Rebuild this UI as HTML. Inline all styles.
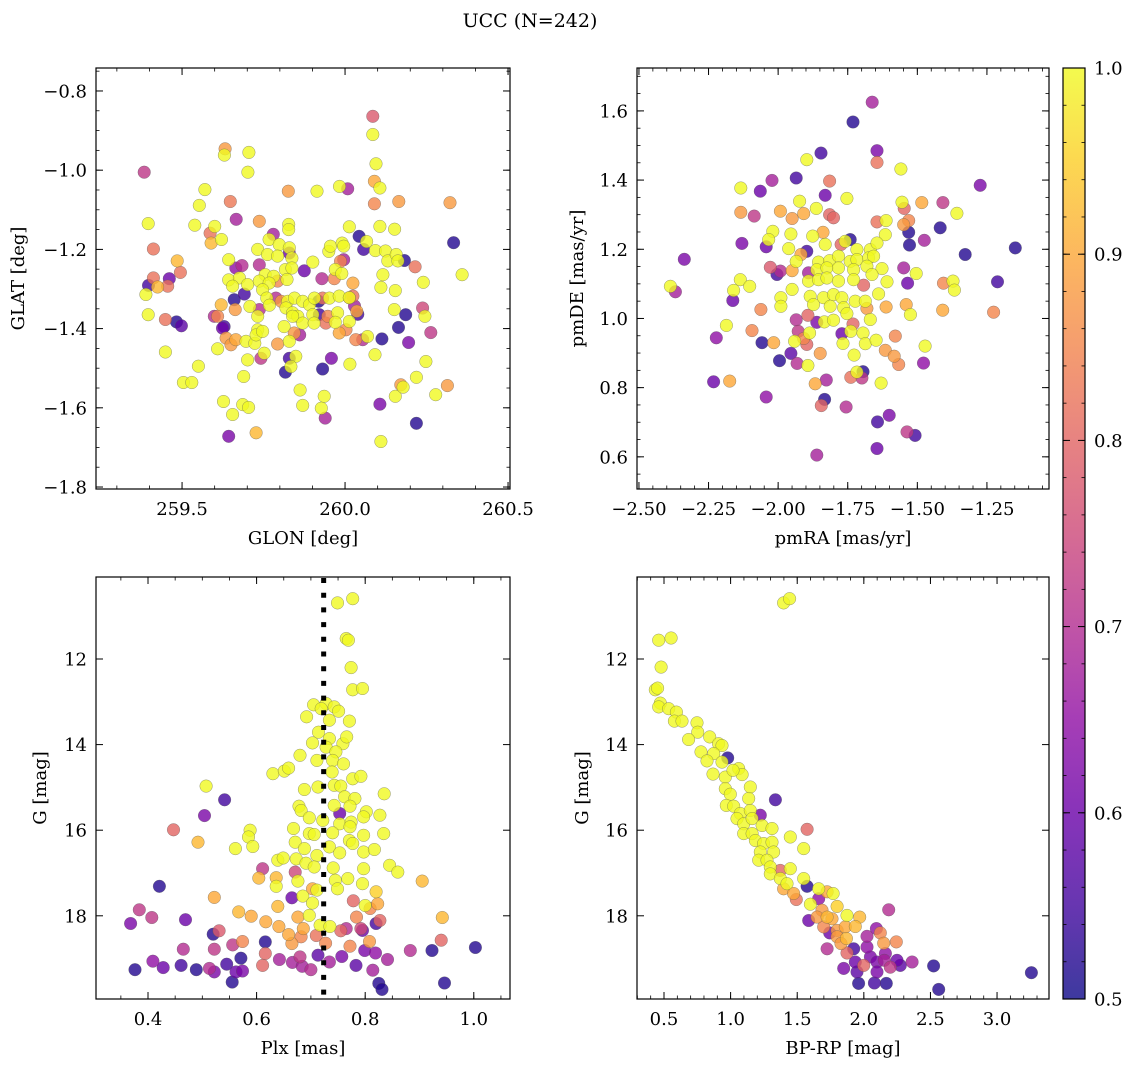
<!DOCTYPE html>
<html><head><meta charset="utf-8">
<style>
body{margin:0;background:#fff;}
svg text{font-family:"DejaVu Serif","Liberation Serif",serif;fill:#000;}
</style></head>
<body>
<svg id="fig" width="1136" height="1067" viewBox="0 0 1136 1067" xmlns="http://www.w3.org/2000/svg">
<defs><linearGradient id="cbgrad" x1="0" y1="1" x2="0" y2="0"></linearGradient></defs>
<text x="530" y="27" font-size="19" text-anchor="middle">UCC (N=242)</text>
</svg>
<script>
// ---------- Panel 1: GLON / GLAT ----------
const glon=[260.085,260.085,260.095,260.09,260.107,260.09,260.165,260.322,260.107,260.152,260.333,260.359,259.384,259.396,259.412,259.485,259.495,259.461,259.412,259.397,259.425,259.456,259.389,259.396,259.449,259.483,259.498,259.449,259.55,259.504,259.53,259.627,259.655,259.686,259.704,259.643,259.727,259.632,259.63,259.705,259.702,259.57,259.553,259.648,259.666,259.737,259.539,259.6,259.586,259.589,259.621,259.826,259.914,259.983,260.008,259.827,259.827,259.78,259.767,259.732,259.798,259.829,259.829,259.762,259.793,259.837,259.643,259.901,259.875,259.665,259.684,259.737,259.817,259.837,259.755,259.781,259.822,259.643,259.676,259.655,259.701,259.737,259.767,259.793,259.929,259.95,259.955,259.991,259.996,260.013,259.986,259.996,259.97,259.99,259.967,260.043,260.066,260.057,260.093,260.124,260.131,260.157,260.162,260.182,260.215,260.116,260.024,260.11,260.154,260.24,260.024,260.013,260.029,260.039,260.036,259.691,259.66,259.747,259.76,259.788,259.768,259.804,259.824,259.845,259.87,259.891,259.906,259.919,259.931,259.952,259.982,260.013,259.62,259.663,259.708,259.737,259.732,259.819,259.839,259.855,259.901,259.921,259.947,259.977,259.599,259.609,259.624,259.629,259.732,259.813,259.839,259.87,259.905,259.941,259.97,260.013,260.003,259.982,259.635,259.65,259.665,259.696,259.723,259.727,259.747,259.701,259.752,259.742,259.793,259.829,259.861,259.844,259.829,259.849,259.834,259.817,259.931,259.958,260.015,260.033,260.054,260.069,260.113,260.164,260.186,260.195,260.238,260.245,260.263,260.248,260.092,260.151,259.862,259.87,259.936,259.927,259.939,259.689,259.609,260.107,260.154,260.171,260.178,260.219,260.278,260.314,260.219,260.11];
const glat=[-0.864,-0.910,-0.984,-1.028,-1.045,-1.085,-1.079,-1.082,-1.142,-1.149,-1.183,-1.264,-1.005,-1.135,-1.199,-1.229,-1.258,-1.274,-1.272,-1.291,-1.295,-1.293,-1.314,-1.365,-1.377,-1.383,-1.393,-1.459,-1.495,-1.536,-1.536,-1.584,-1.617,-1.592,-1.599,-1.672,-1.663,-0.946,-0.962,-0.955,-1.005,-1.049,-1.089,-1.079,-1.124,-1.129,-1.139,-1.142,-1.159,-1.184,-1.175,-1.053,-1.053,-1.041,-1.047,-1.137,-1.15,-1.162,-1.175,-1.2,-1.188,-1.196,-1.209,-1.213,-1.217,-1.222,-1.226,-1.232,-1.254,-1.247,-1.241,-1.239,-1.251,-1.247,-1.264,-1.268,-1.276,-1.277,-1.272,-1.293,-1.289,-1.28,-1.285,-1.28,-1.274,-1.205,-1.192,-1.184,-1.192,-1.143,-1.23,-1.226,-1.251,-1.261,-1.274,-1.167,-1.18,-1.2,-1.203,-1.204,-1.229,-1.213,-1.229,-1.228,-1.244,-1.264,-1.285,-1.296,-1.304,-1.283,-1.318,-1.322,-1.343,-1.364,-1.356,-1.313,-1.327,-1.302,-1.323,-1.323,-1.341,-1.331,-1.331,-1.323,-1.331,-1.34,-1.323,-1.331,-1.323,-1.323,-1.318,-1.322,-1.34,-1.352,-1.344,-1.352,-1.369,-1.348,-1.36,-1.369,-1.365,-1.365,-1.369,-1.36,-1.369,-1.369,-1.399,-1.395,-1.403,-1.395,-1.369,-1.386,-1.386,-1.386,-1.384,-1.382,-1.403,-1.411,-1.424,-1.441,-1.428,-1.432,-1.437,-1.416,-1.407,-1.479,-1.462,-1.475,-1.439,-1.432,-1.416,-1.411,-1.475,-1.47,-1.496,-1.51,-1.502,-1.475,-1.49,-1.428,-1.428,-1.42,-1.426,-1.397,-1.365,-1.435,-1.348,-1.369,-1.41,-1.483,-1.466,-1.352,-1.555,-1.594,-1.571,-1.601,-1.626,-1.521,-1.451,-1.591,-1.571,-1.542,-1.548,-1.523,-1.567,-1.544,-1.639,-1.685];
const probA=[.78,1,1,.9,1,.85,.88,.88,1,1,.52,1,.72,1,.82,.92,.82,.6,.82,.55,.92,.82,1,1,.82,.52,.58,1,1,1,1,1,1,1,1,.62,.92,.88,1,1,1,1,1,.83,.68,.88,1,1,.82,.92,1,.88,1,1,.68,1,1,.68,1,1,1,1,.6,1,1,1,1,1,.6,.65,.7,.7,1,1,1,1,1,1,1,1,1,1,1,.85,.7,1,1,1,1,1,.85,.68,1,1,.85,.52,1,.55,1,1,1,1,1,.52,.82,1,.9,1,1,1,.82,.88,.68,.55,.9,.55,.52,1,1,.7,1,.88,1,1,1,1,1,.52,.82,1,1,1,.92,.88,1,.7,1,1,1,1,1,.55,.85,1,.7,.85,.6,.55,1,1,1,1,1,.82,1,1,.85,.9,.88,.88,.9,1,1,1,1,1,1,.72,.88,1,.68,.88,.55,1,1,.52,.52,.62,1,.85,.7,1,.52,.52,.52,.62,.75,1,.72,1,1,1,1,1,1,1,.68,1,1,.62,1,.88,1,1,1,.88,.52,1];

// ---------- Panel 2: pmRA / pmDE ----------
const pmra=[-1.662,-1.731,-1.645,-1.645,-1.846,-1.897,-1.559,-1.935,-2.022,-2.064,-2.134,-1.831,-1.815,-1.753,-1.274,-1.923,-1.863,-1.992,-1.950,-1.908,-1.815,-1.801,-2.134,-2.086,-1.555,-1.547,-1.484,-1.408,-1.358,-1.645,-1.612,-1.531,-1.549,-1.418,-1.531,-1.528,-1.475,-1.615,-2.019,-1.954,-1.876,-1.839,-1.831,-2.034,-2.130,-2.043,-1.962,-1.897,-1.918,-1.774,-1.741,-1.759,-1.717,-1.669,-1.645,-1.328,-1.148,-2.337,-1.935,-1.855,-1.815,-1.783,-1.741,-1.717,-1.675,-1.657,-2.028,-1.992,-2.004,-1.950,-1.891,-1.861,-1.825,-1.783,-1.729,-1.681,-1.627,-1.549,-1.504,-2.136,-2.102,-2.160,-2.387,-2.369,-2.163,-1.950,-1.990,-1.990,-2.062,-1.891,-1.855,-1.825,-1.783,-1.729,-1.693,-1.663,-1.609,-1.535,-1.406,-1.372,-1.367,-1.212,-1.885,-1.837,-1.801,-1.771,-1.723,-1.687,-1.639,-1.873,-1.813,-1.765,-1.681,-1.612,-1.540,-1.525,-1.409,-1.226,-1.935,-1.893,-1.861,-1.834,-1.801,-1.753,-1.731,-1.669,-2.186,-2.222,-2.094,-1.928,-1.887,-2.058,-2.016,-1.941,-1.908,-1.897,-1.771,-1.739,-1.695,-1.579,-1.767,-1.687,-1.648,-1.472,-1.995,-1.954,-1.932,-1.893,-1.849,-1.727,-1.615,-1.583,-1.567,-1.478,-2.232,-2.174,-1.867,-1.827,-1.739,-1.717,-1.695,-1.699,-1.630,-2.043,-1.833,-1.845,-1.756,-1.643,-1.601,-1.537,-1.508,-1.645,-1.861];
const pmde=[1.625,1.568,1.485,1.451,1.478,1.459,1.432,1.406,1.399,1.368,1.377,1.356,1.397,1.347,1.385,1.339,1.318,1.310,1.289,1.303,1.300,1.291,1.307,1.296,1.336,1.318,1.335,1.335,1.304,1.279,1.283,1.283,1.271,1.262,1.249,1.212,1.226,1.242,1.252,1.244,1.238,1.249,1.214,1.228,1.217,1.207,1.202,1.194,1.185,1.214,1.228,1.223,1.199,1.199,1.218,1.185,1.204,1.171,1.165,1.163,1.167,1.180,1.165,1.170,1.175,1.180,1.148,1.137,1.127,1.138,1.132,1.141,1.146,1.146,1.141,1.151,1.144,1.146,1.130,1.112,1.093,1.081,1.093,1.077,1.052,1.084,1.060,1.035,1.026,1.108,1.112,1.117,1.108,1.112,1.096,1.127,1.106,1.102,1.102,1.108,1.082,1.106,1.064,1.060,1.069,1.060,1.050,1.050,1.071,1.040,1.035,1.031,1.029,1.033,1.040,1.011,1.024,1.018,0.996,1.009,0.989,0.990,0.995,1.014,0.984,0.997,0.980,0.944,0.965,0.963,0.958,0.930,0.930,0.934,0.942,0.925,0.956,0.963,0.958,0.949,0.928,0.927,0.937,0.920,0.878,0.899,0.870,0.864,0.899,0.894,0.908,0.891,0.867,0.871,0.817,0.819,0.811,0.822,0.830,0.845,0.846,0.828,0.813,0.773,0.766,0.748,0.744,0.701,0.720,0.672,0.662,0.624,0.605];
const probB=[.68,.52,.62,.82,.55,1,1,.55,.68,.6,1,.6,.82,1,.62,1,1,.9,.88,.9,.8,.8,.88,.72,1,.8,.9,.72,1,.82,1,.85,.88,.52,.52,.52,.68,1,1,1,1,.9,1,1,.62,.6,1,.55,.9,.8,.52,1,1,1,1,.52,.52,.62,1,1,1,1,1,1,1,1,.78,.7,.55,.9,.68,1,1,1,1,1,1,.68,1,1,1,1,1,.68,.6,1,1,1,.85,1,1,1,1,1,.8,1,1,.6,.85,1,1,.55,1,1,1,1,1,1,1,1,1,1,.88,.9,.9,1,.9,.85,.7,.8,.62,1,1,1,.8,1,1,.65,.85,.72,1,.52,.9,1,.85,.8,.6,1,1,.85,1,1,1,1,.52,.58,.7,1,.88,1,.88,.88,.85,.65,.6,.9,.9,.68,.82,1,.52,.72,1,.65,.52,.8,.7,.55,.62,.72,.55,.6,.68];

// ---------- Panel 3: Plx / G ----------
const plx=[0.777,0.749,0.765,0.769,0.774,0.777,0.795,0.705,0.728,0.743,0.751,0.719,0.692,0.734,0.771,0.714,0.734,0.759,0.766,0.703,0.728,0.746,0.680,0.711,0.740,0.760,0.630,0.651,0.659,0.739,0.777,0.792,0.688,0.713,0.743,0.755,0.762,0.781,0.835,0.507,0.541,0.504,0.678,0.682,0.743,0.772,0.753,0.802,0.797,0.827,0.697,0.722,0.753,0.774,0.772,0.447,0.492,0.588,0.585,0.593,0.561,0.668,0.697,0.706,0.740,0.671,0.771,0.777,0.797,0.834,0.688,0.711,0.734,0.753,0.797,0.817,0.639,0.649,0.673,0.691,0.706,0.741,0.797,0.845,0.860,0.421,0.611,0.604,0.636,0.636,0.671,0.676,0.703,0.711,0.745,0.768,0.795,0.749,0.820,0.905,0.522,0.384,0.407,0.368,0.469,0.639,0.665,0.685,0.703,0.778,0.800,0.809,0.823,0.567,0.590,0.617,0.676,0.697,0.784,0.827,0.820,0.942,0.520,0.531,0.641,0.659,0.686,0.717,0.735,0.765,0.755,0.792,0.795,0.465,0.522,0.556,0.574,0.616,0.616,0.665,0.682,0.710,0.727,0.772,0.808,0.883,0.923,0.940,1.003,0.376,0.409,0.428,0.461,0.489,0.513,0.522,0.545,0.571,0.562,0.574,0.611,0.642,0.666,0.680,0.684,0.700,0.713,0.734,0.757,0.783,0.799,0.819,0.841,0.814,0.555,0.825,0.831,0.946];
const gmagA=[10.59,10.69,11.52,11.56,12.20,12.72,12.69,13.07,13.04,13.12,13.22,13.16,13.35,13.43,13.45,13.71,13.86,13.98,13.82,13.96,14.06,14.17,14.25,14.37,14.37,14.45,14.68,14.62,14.55,14.64,14.80,14.74,15.05,14.99,14.95,14.97,15.22,15.26,15.15,14.97,15.29,15.66,15.44,15.54,15.42,15.44,15.61,15.57,15.69,15.65,15.71,15.77,15.85,15.81,15.92,15.99,16.28,16.00,16.16,16.38,16.43,15.96,16.08,16.10,16.06,16.28,16.24,16.31,16.12,16.08,16.43,16.59,16.39,16.53,16.51,16.45,16.70,16.65,16.67,16.77,16.86,16.88,16.90,16.82,16.98,17.31,16.90,17.12,17.11,17.31,16.98,17.19,17.37,17.40,17.17,17.13,17.25,17.37,17.44,17.19,17.57,17.86,18.04,18.18,18.09,17.78,17.58,17.54,17.70,17.65,17.76,17.83,17.72,17.91,18.01,18.14,18.03,17.99,18.03,18.11,18.18,18.04,18.43,18.35,18.25,18.44,18.30,18.22,18.25,18.30,18.35,18.30,18.34,18.78,18.78,18.68,18.60,18.61,18.88,18.65,18.49,18.46,18.64,18.71,18.60,18.81,18.81,18.57,18.74,19.26,19.06,19.21,19.16,19.26,19.23,19.31,19.13,18.99,19.31,19.29,19.16,19.02,19.09,18.96,19.18,19.26,18.92,19.08,18.95,19.16,18.81,18.87,19.02,19.27,19.55,19.58,19.72,19.57];
const probC=[1,1,1,1,1,1,1,1,1,1,1,1,1,1,1,1,1,1,1,1,1,1,1,1,1,1,1,1,1,1,1,1,1,1,1,1,1,1,1,1,.55,.62,1,1,1,1,.6,1,1,1,1,1,1,1,1,.8,.92,1,1,1,1,1,1,1,1,1,1,1,1,1,1,1,1,1,1,1,1,1,1,1,1,1,1,1,1,.52,.72,.92,.92,1,.75,1,.9,1,1,1,1,1,.95,.92,.9,.72,.72,.62,.6,.92,.6,1,1,.8,1,.85,.9,.92,.9,.9,.9,1,.85,.8,.55,.92,.52,.78,.9,.9,.9,1,1,.7,.8,.75,.6,.7,.72,.72,.85,.52,.8,.88,.85,.82,.85,.85,.88,.7,.52,.8,.52,.52,.65,.6,.55,.52,.7,.62,.55,.52,.6,.62,.8,.68,.68,.72,.68,.7,.58,.68,.62,.58,.62,.65,.68,.68,.52,.52,.52,.52];

// ---------- Panel 4: BP-RP / G ----------
const bprp=[1.398,1.443,0.460,0.553,0.478,0.435,0.452,0.472,0.460,0.535,0.593,0.578,0.635,0.748,0.753,0.685,0.843,0.910,0.935,0.778,0.873,0.978,0.823,0.935,1.061,0.868,0.960,1.086,1.018,1.148,0.960,0.998,1.136,1.336,0.968,1.023,1.073,1.148,1.223,1.048,1.098,1.161,1.236,1.311,1.098,1.161,1.448,1.574,1.186,1.248,1.311,1.549,1.223,1.323,1.211,1.273,1.298,1.448,1.373,1.298,1.373,1.423,1.549,1.574,1.398,1.473,1.661,1.724,1.769,1.493,1.599,1.661,1.686,1.799,1.586,1.649,1.724,1.761,1.874,1.969,2.187,1.699,1.744,1.799,1.861,1.936,2.094,2.124,2.024,1.799,1.869,1.724,1.829,1.874,1.924,2.024,2.149,2.244,1.849,1.936,1.949,1.999,2.049,2.099,2.162,2.154,2.199,2.249,2.274,2.362,2.099,1.961,2.079,2.169,2.524,2.562,3.258];
const gmagB=[10.69,10.59,11.56,11.51,12.19,12.72,12.68,13.03,13.12,13.16,13.24,13.45,13.45,13.49,13.71,13.88,13.82,13.98,14.02,14.17,14.21,14.31,14.38,14.41,14.56,14.69,14.76,14.70,14.60,14.99,15.03,15.16,15.26,15.29,15.42,15.44,15.61,15.54,15.65,15.73,15.85,15.73,15.89,15.96,16.08,16.08,16.16,15.98,16.24,16.31,16.28,16.43,16.51,16.51,16.70,16.70,16.86,16.90,16.94,17.02,17.13,17.25,17.13,17.31,17.37,17.48,17.37,17.44,17.48,17.62,17.73,17.60,17.87,17.78,18.11,18.03,18.03,18.07,17.99,18.03,17.86,18.26,18.40,18.34,18.26,18.25,18.30,18.40,18.48,18.49,18.53,18.77,18.65,18.87,18.77,18.73,18.64,18.61,19.23,19.08,19.31,19.16,18.96,19.08,18.88,19.04,19.20,19.04,19.16,19.08,19.31,19.58,19.57,19.58,19.17,19.72,19.33];
const probD=[1,1,1,1,1,1,1,1,1,1,1,1,1,1,1,1,1,1,1,1,1,.52,1,1,1,1,1,1,1,1,1,1,1,.55,1,1,1,1,.62,1,1,1,1,1,1,1,1,.8,1,1,1,1,1,1,1,1,1,1,.8,1,1,1,1,.52,.9,.9,1,.9,1,.82,1,.65,.88,.95,.6,.88,.92,.9,1,.92,.7,.85,.6,.88,.9,.92,.65,.85,.68,.88,.92,.7,.88,.8,.55,.65,.88,.85,.62,.6,.58,.8,.62,.62,.65,.68,.72,.6,.58,.68,.62,.52,.55,.52,.52,.52,.52];

// ---------- Colorbar ----------
const cbTicks=[0.5,0.6,0.7,0.8,0.9,1.0];
const cbMin=0.5, cbMax=1.0;

const plasmaStops=['#0d0887','#41049d','#6a00a8','#8f0da4','#b12a90','#cc4778','#e16462','#f2844b','#fca636','#fcce25','#f0f921'];
function hex(h){return [parseInt(h.substr(1,2),16),parseInt(h.substr(3,2),16),parseInt(h.substr(5,2),16)];}
function plasma(t){t=Math.max(0,Math.min(1,t));const n=plasmaStops.length-1;const i=Math.min(n-1,Math.floor(t*n));const f=t*n-i;const a=hex(plasmaStops[i]),b=hex(plasmaStops[i+1]);return 'rgb('+a.map((v,k)=>Math.round(v+(b[k]-v)*f)).join(',')+')';}
function colorOf(p){return plasma((p-cbMin)/(cbMax-cbMin));}

const NS='http://www.w3.org/2000/svg';
const svg=document.getElementById('fig');
const FS=18;
function mk(tag,attrs,parent){const e=document.createElementNS(NS,tag);for(const k in attrs)e.setAttribute(k,attrs[k]);(parent||svg).appendChild(e);return e;}
function fmt(v,d){const s=Math.abs(v).toFixed(d);return (v<-1e-9?'\u2212':'')+s;}

function panel(cfg){
  const g=mk('g',{});
  
  
  const {L,T,R,B}=cfg;
  const sx=v=>L+(v-cfg.x0)/(cfg.x1-cfg.x0)*(R-L);
  const sy=v=>B-(v-cfg.y0)/(cfg.y1-cfg.y0)*(B-T);
  const clip='clip-'+cfg.name;
  const cp=mk('clipPath',{id:clip},g);mk('rect',{x:L,y:T,width:R-L,height:B-T},cp);
  const pts=mk('g',{'clip-path':'url(#'+clip+')'},g);
  
  
  const idx=cfg.xs.map((_,i)=>i).sort((a,b)=>cfg.ps[a]-cfg.ps[b]);
  idx.forEach(i=>{
    const c=mk('circle',{cx:sx(cfg.xs[i]).toFixed(1),cy:sy(cfg.ys[i]).toFixed(1),r:6.3,fill:colorOf(cfg.ps[i]),'fill-opacity':0.8,stroke:'#555','stroke-opacity':0.6,'stroke-width':0.5},pts);
    
    
  });
  if(cfg.vline!==undefined){
    const l=mk('line',{x1:sx(cfg.vline),x2:sx(cfg.vline),y1:T+1,y2:B,stroke:'#000','stroke-width':5,'stroke-dasharray':'5 9.7'},g);
    
    
  }
  const ax=mk('g',{},g);
  
  
  for(let v=Math.ceil(cfg.x0/cfg.xmin-1e-6)*cfg.xmin;v<=cfg.x1;v+=cfg.xmin){const x=sx(v);mk('line',{x1:x,x2:x,y1:B,y2:B-3.5,stroke:'#000','stroke-width':0.8},ax);mk('line',{x1:x,x2:x,y1:T,y2:T+3.5,stroke:'#000','stroke-width':0.8},ax);}
  for(let v=Math.ceil(cfg.y0/cfg.ymin-1e-6)*cfg.ymin;v<=cfg.y1;v+=cfg.ymin){const y=sy(v);mk('line',{x1:L,x2:L+3.5,y1:y,y2:y,stroke:'#000','stroke-width':0.8},ax);mk('line',{x1:R,x2:R-3.5,y1:y,y2:y,stroke:'#000','stroke-width':0.8},ax);}
  cfg.xticks.forEach(v=>{const x=sx(v);mk('line',{x1:x,x2:x,y1:B,y2:B-7,stroke:'#000','stroke-width':1},ax);mk('line',{x1:x,x2:x,y1:T,y2:T+7,stroke:'#000','stroke-width':1},ax);
    const t=mk('text',{x:x,y:B+26,'font-size':FS,'text-anchor':'middle'},ax);t.textContent=fmt(v,cfg.xd);
    });
  cfg.yticks.forEach(v=>{const y=sy(v);mk('line',{x1:L,x2:L+7,y1:y,y2:y,stroke:'#000','stroke-width':1},ax);mk('line',{x1:R,x2:R-7,y1:y,y2:y,stroke:'#000','stroke-width':1},ax);
    const t=mk('text',{x:L-9,y:y+6.5,'font-size':FS,'text-anchor':'end'},ax);t.textContent=fmt(v,cfg.yd);
    });
  mk('rect',{x:L,y:T,width:R-L,height:B-T,fill:'none',stroke:'#000','stroke-width':1.2},ax);
  const xt=mk('text',{x:(L+R)/2,y:B+55,'font-size':FS,'text-anchor':'middle'},g);xt.textContent=cfg.xlabel;
  
  const yt=mk('text',{x:0,y:0,'font-size':FS,'text-anchor':'middle',transform:'translate('+cfg.ylx+','+((T+B)/2)+') rotate(-90)'},g);yt.textContent=cfg.ylabel;
  
}

panel({name:'glon-glat-panel',L:96,T:68,R:510,B:489,x0:259.236,x1:260.506,y0:-1.805,y1:-0.742,xs:glon,ys:glat,ps:probA,
  xticks:[259.5,260.0,260.5],xd:1,xmin:0.1,yticks:[-0.8,-1.0,-1.2,-1.4,-1.6,-1.8],yd:1,ymin:0.05,xlabel:'GLON [deg]',ylabel:'GLAT [deg]',ylx:24});
panel({name:'proper-motion-panel',L:637,T:68,R:1049,B:489,x0:-2.507,x1:-1.027,y0:0.507,y1:1.724,xs:pmra,ys:pmde,ps:probB,
  xticks:[-2.5,-2.25,-2.0,-1.75,-1.5,-1.25],xd:2,xmin:0.05,yticks:[0.6,0.8,1.0,1.2,1.4,1.6],yd:1,ymin:0.05,xlabel:'pmRA [mas/yr]',ylabel:'pmDE [mas/yr]',ylx:583});
panel({name:'parallax-panel',L:96,T:577,R:510,B:999,x0:0.3042,x1:1.0667,y0:19.944,y1:10.084,xs:plx,ys:gmagA,ps:probC,vline:0.7235,
  xticks:[0.4,0.6,0.8,1.0],xd:1,xmin:0.05,yticks:[12,14,16,18],yd:0,ymin:0.5,xlabel:'Plx [mas]',ylabel:'G [mag]',ylx:46});
panel({name:'cmd-panel',L:637,T:577,R:1049,B:999,x0:0.2973,x1:3.39,y0:19.944,y1:10.084,xs:bprp,ys:gmagB,ps:probD,
  xticks:[0.5,1.0,1.5,2.0,2.5,3.0],xd:1,xmin:0.1,yticks:[12,14,16,18],yd:0,ymin:0.5,xlabel:'BP-RP [mag]',ylabel:'G [mag]',ylx:588});

(function(){
  const grad=document.getElementById('cbgrad');
  for(let i=0;i<=20;i++){mk('stop',{offset:(i/20),'stop-color':plasma(i/20),'stop-opacity':0.8},grad);}
  const L=1063,R=1085,T=68,B=999;
  const g=mk('g',{});
  
  
  mk('rect',{x:L,y:T,width:R-L,height:B-T,fill:'url(#cbgrad)',stroke:'#000','stroke-width':1.2},g);
  const sy=v=>B-(v-cbMin)/(cbMax-cbMin)*(B-T);
  for(let v=cbMin;v<=cbMax+1e-9;v+=0.02){const y=sy(v);mk('line',{x1:R,x2:R-3.5,y1:y,y2:y,stroke:'#000','stroke-width':0.8},g);mk('line',{x1:L,x2:L+3.5,y1:y,y2:y,stroke:'#000','stroke-width':0.8},g);}
  cbTicks.forEach(v=>{const y=sy(v);mk('line',{x1:R,x2:R-7,y1:y,y2:y,stroke:'#000','stroke-width':1},g);mk('line',{x1:L,x2:L+7,y1:y,y2:y,stroke:'#000','stroke-width':1},g);
    const t=mk('text',{x:R+9,y:y+6.5,'font-size':FS},g);t.textContent=v.toFixed(1);
    });
})();
</script>
</body></html>
